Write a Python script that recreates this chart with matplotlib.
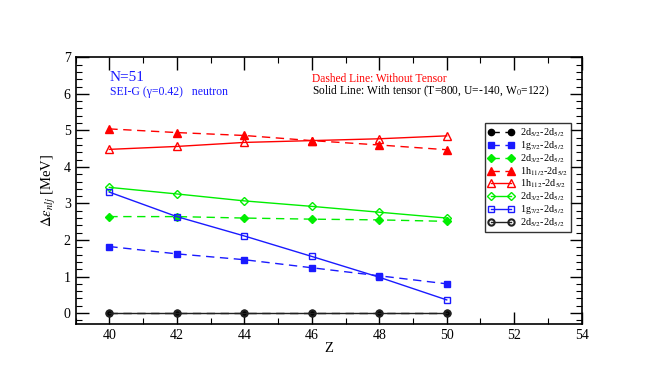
import matplotlib.pyplot as plt
from matplotlib.ticker import MultipleLocator

plt.rcParams['font.family'] = ['Liberation Serif', 'DejaVu Serif']
plt.rcParams['mathtext.fontset'] = 'stix'

z = [40, 42, 44, 46, 48, 50]

# without tensor (dashed)
d52_no = [0, 0, 0, 0, 0, 0]
g72_no = [1.82, 1.62, 1.46, 1.24, 1.02, 0.80]
d32_no = [2.64, 2.64, 2.60, 2.57, 2.55, 2.51]
h112_no = [5.04, 4.94, 4.86, 4.72, 4.60, 4.47]

# with tensor (solid)
h112_t = [4.48, 4.56, 4.67, 4.72, 4.77, 4.85]
d32_t = [3.44, 3.26, 3.07, 2.92, 2.76, 2.60]
g72_t = [3.31, 2.64, 2.11, 1.55, 0.98, 0.36]
d52_t = [0, 0, 0, 0, 0, 0]

labels = [r'2d$_{5/2}$-2d$_{5/2}$', r'1g$_{7/2}$-2d$_{5/2}$', r'2d$_{3/2}$-2d$_{5/2}$',
          r'1h$_{11/2}$-2d$_{5/2}$', r'1h$_{112}$-2d$_{5/2}$', r'2d$_{3/2}$-2d$_{5/2}$',
          r'1g$_{7/2}$-2d$_{5/2}$', r'2d$_{5/2}$-2d$_{5/2}$']

fig = plt.figure(figsize=(6.54, 3.82), dpi=100)
ax = fig.add_axes([0.1156, 0.1518, 0.7738, 0.6982])

red, blue, green = '#ff0000', '#1a1aff', '#00ee00'
ms = 4.5
ax.plot(z, d52_no, '--', color='black', marker='o', ms=ms, lw=1, dashes=(6, 4), label=labels[0])
ax.plot(z, g72_no, '--', color=blue, marker='s', ms=ms, lw=1, dashes=(6, 4), label=labels[1])
ax.plot(z, d32_no, '--', color=green, marker='D', ms=ms, lw=1, dashes=(6, 4), label=labels[2])
ax.plot(z, h112_no, '--', color=red, marker='^', ms=ms + 1, lw=1, dashes=(6, 4), label=labels[3])
ax.plot(z, h112_t, '-', color=red, marker='^', ms=ms + 1, mfc='none', lw=1, label=labels[4])
ax.plot(z, d32_t, '-', color=green, marker='D', ms=ms, mfc='none', lw=1, label=labels[5])
ax.plot(z, g72_t, '-', color=blue, marker='s', ms=ms, mfc='none', lw=1, label=labels[6])
ax.plot(z, d52_t, '-', color='#222222', marker='o', ms=ms, mfc='none', mew=1.5, lw=1, label=labels[7])

ax.set_xlim(39, 54)
ax.set_ylim(-0.3, 7)
ax.set_xticks([40, 42, 44, 46, 48, 50, 52, 54])
ax.set_yticks(range(0, 8))
ax.xaxis.set_minor_locator(MultipleLocator(1))
ax.yaxis.set_minor_locator(MultipleLocator(0.2))
ax.tick_params(which='both', direction='in', top=True, right=True, labelsize=10)
ax.tick_params(which='major', length=9, width=1)
ax.tick_params(which='minor', length=4.5, width=0.8)
for s in ax.spines.values():
    s.set_linewidth(1.2)

ax.set_xlabel('Z', fontsize=10.5, labelpad=0)
ax.set_ylabel(r'$\Delta\varepsilon_{nlj}$ [MeV]', fontsize=10.5, labelpad=4)

ax.text(0.068, 0.912, 'N=51', transform=ax.transAxes, color=blue, fontsize=11, va='baseline')
ax.text(0.068, 0.860, 'SEI-G (γ=0.42)   neutron', transform=ax.transAxes, color=blue,
        fontsize=8.5, va='baseline')
ax.text(0.467, 0.908, 'Dashed Line: Without Tensor', transform=ax.transAxes, color=red,
        fontsize=8.3, va='baseline')
ax.text(0.467, 0.862, r'Solid Line: With tensor (T=800, U=-140, W$_0$=122)', transform=ax.transAxes,
        color='black', fontsize=8.3, va='baseline')

leg = ax.legend(loc='upper right', bbox_to_anchor=(0.979, 0.754), fontsize=7.3, frameon=True,
                fancybox=False, edgecolor='black', handlelength=2.6, labelspacing=0.02,
                borderpad=0.35, handletextpad=0.5, numpoints=2, borderaxespad=0)
leg.get_frame().set_linewidth(1.0)

fig.savefig('out.png', dpi=100)
